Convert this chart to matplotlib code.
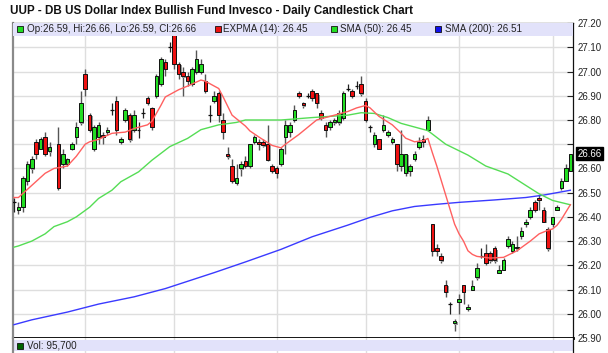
import matplotlib
matplotlib.use("Agg")
import matplotlib.pyplot as plt
from matplotlib.patches import Rectangle

plt.rcParams['font.family'] = ['Liberation Sans', 'DejaVu Sans']

title = "UUP - DB US Dollar Index Bullish Fund Invesco - Daily Candlestick Chart"

# daily candles, one slot per trading day (None = no bar drawn)
opens = [26.46, 26.43, 26.44, 26.55, 26.60, 26.71, 26.68, 26.73, 26.67, None,
         26.70, 26.62, 26.62, 26.68, 26.73, 26.79, 26.99, 26.82, 26.68, 26.73,
         26.74, 26.75, 26.84, 26.88, 26.71, 26.80, 26.82, 26.76, 26.76, 26.83,
         26.89, 26.85, 26.90, 26.95, 27.04, 27.10, 27.16, 27.03, 27.00, 26.98,
         26.95, 27.00, 27.00, 26.96, 26.82, 26.88, 26.91, 26.80, 26.66, 26.61,
         26.54, 26.60, 26.63, 26.61, 26.71, 26.71, 26.71, 26.70, 26.61, 26.60,
         26.62, 26.73, 26.75, 26.80, 26.91, 26.87, 26.90, 26.92, 26.91, 26.83,
         26.78, 26.77, 26.79, 26.79, 26.81, 26.93, 26.92, 26.94, 26.95, 26.88,
         26.77, 26.70, 26.72, 26.76, 26.74, 26.71, 26.70, 26.61, 26.58, 26.59,
         26.64, 26.69, 26.72, 26.76, 26.37, 26.27, 26.24, 26.12, 26.04, 25.96,
         26.05, 26.12, 26.02, 26.10, 26.15, 26.24, 26.25, 26.25, 26.27, 26.17,
         26.18, 26.28, 26.26, 26.27, 26.32, 26.37, 26.40, 26.46, 26.48, 26.43,
         26.35, 26.37, 26.43, 26.52, 26.55, 26.59]
highs = [26.48, 26.46, 26.57, 26.63, 26.65, 26.72, 26.73, 26.75, 26.71, None,
         26.77, 26.68, 26.645, 26.71, 26.79, 26.92, 27.01, 26.83, 26.78, 26.79,
         26.75, 26.77, 26.87, 26.90, 26.73, 26.85, 26.83, 26.84, 26.79, 26.85,
         26.90, 26.855, 26.99, 27.06, 27.05, 27.12, 27.17, 27.04, 27.02, 27.00,
         27.02, 27.09, 27.05, 26.99, 26.86, 26.92, 26.92, 26.83, 26.69, 26.64,
         26.62, 26.63, 26.65, 26.70, 26.74, 26.72, 26.72, 26.78, 26.62, 26.61,
         26.69, 26.80, 26.79, 26.86, 26.92, 26.875, 26.91, 26.93, 26.91, 26.84,
         26.79, 26.80, 26.81, 26.84, 26.92, 26.95, 26.93, 26.96, 26.98, 26.89,
         26.78, 26.75, 26.72, 26.82, 26.76, 26.73, 26.70, 26.76, 26.66, 26.62,
         26.67, 26.73, 26.74, 26.815, 26.37, 26.29, 26.25, 26.14, 26.05, 25.98,
         26.08, 26.12, 26.04, 26.14, 26.21, 26.27, 26.29, 26.26, 26.28, 26.20,
         26.23, 26.32, 26.30, 26.32, 26.36, 26.39, 26.44, 26.47, 26.49, 26.44,
         26.36, 26.40, 26.45, 26.56, 26.62, 26.66]
lows = [26.42, 26.41, 26.42, 26.53, 26.58, 26.64, 26.68, 26.65, 26.65, None,
        26.51, 26.60, 26.61, 26.675, 26.70, 26.78, 26.90, 26.75, 26.67, 26.70,
        26.70, 26.74, 26.82, 26.74, 26.70, 26.79, 26.71, 26.75, 26.725, 26.81,
        26.86, 26.76, 26.89, 26.94, 26.98, 27.08, 27.01, 26.97, 26.90, 26.94,
        26.94, 26.99, 26.99, 26.91, 26.79, 26.87, 26.79, 26.72, 26.64, 26.54,
        26.53, 26.57, 26.60, 26.60, 26.70, 26.675, 26.69, 26.63, 26.58, 26.56,
        26.61, 26.66, 26.73, 26.79, 26.89, 26.85, 26.89, 26.88, 26.85, 26.80,
        26.73, 26.76, 26.78, 26.78, 26.80, 26.92, 26.89, 26.93, 26.90, 26.79,
        26.75, 26.69, 26.68, 26.75, 26.73, 26.70, 26.59, 26.59, 26.57, 26.57,
        26.63, 26.68, 26.69, 26.755, 26.24, 26.24, 26.21, 26.07, 26.00, 25.93,
        26.00, 26.04, 26.01, 26.10, 26.14, 26.23, 26.20, 26.21, 26.21, 26.17,
        26.18, 26.27, 26.25, 26.26, 26.31, 26.36, 26.39, 26.42, 26.43, 26.38,
        26.26, 26.36, 26.43, 26.51, 26.55, 26.59]
closes = [26.46, 26.44, 26.56, 26.62, 26.64, 26.66, 26.72, 26.66, 26.69, None,
          26.52, 26.66, 26.64, 26.70, 26.77, 26.87, 26.93, 26.76, 26.77, 26.78,
          26.73, 26.76, 26.84, 26.76, 26.72, 26.84, 26.72, 26.82, 26.76, 26.83,
          26.87, 26.77, 26.98, 27.05, 27.01, 27.10, 27.03, 26.99, 26.98, 26.96,
          27.01, 27.05, 27.03, 26.92, 26.82, 26.90, 26.82, 26.75, 26.65, 26.55,
          26.56, 26.62, 26.61, 26.70, 26.73, 26.70, 26.695, 26.635, 26.59, 26.58,
          26.68, 26.78, 26.78, 26.84, 26.90, 26.86, 26.90, 26.89, 26.87, 26.81,
          26.76, 26.79, 26.80, 26.83, 26.91, 26.93, 26.90, 26.94, 26.91, 26.80,
          26.77, 26.74, 26.68, 26.78, 26.75, 26.72, 26.62, 26.66, 26.66, 26.61,
          26.66, 26.71, 26.71, 26.80, 26.26, 26.26, 26.22, 26.09, 26.04, 25.97,
          26.06, 26.09, 26.03, 26.115, 26.19, 26.24, 26.21, 26.22, 26.22, 26.18,
          26.22, 26.31, 26.29, 26.275, 26.34, 26.38, 26.43, 26.43, 26.47, 26.38,
          26.27, 26.40, 26.44, 26.55, 26.60, 26.66]

# indicator lines (day slot, value)
ema_days = [0, 1, 4, 7, 9, 12, 14, 16, 17, 19, 22, 25, 27, 30, 31, 33, 34, 37,
            39, 42, 43, 46, 47, 49, 50, 52, 53, 55, 58, 60, 61, 64, 66, 68, 70,
            73, 75, 77, 79, 80, 82, 85, 87, 88, 90, 92, 93, 94, 95, 96, 97, 98,
            99, 100, 101, 102, 103, 104, 107, 110, 113, 116, 118, 120, 121, 122,
            123, 124, 125]
ema_vals = [26.48, 26.48, 26.53, 26.58, 26.60, 26.61, 26.65, 26.70, 26.71, 26.72,
            26.745, 26.75, 26.765, 26.78, 26.795, 26.86, 26.895, 26.925, 26.94,
            26.965, 26.96, 26.93, 26.895, 26.82, 26.805, 26.775, 26.755, 26.73,
            26.695, 26.685, 26.70, 26.74, 26.77, 26.80, 26.81, 26.825, 26.835,
            26.85, 26.86, 26.85, 26.815, 26.78, 26.745, 26.725, 26.71, 26.715,
            26.724, 26.665, 26.61, 26.55, 26.49, 26.43, 26.37, 26.33, 26.30,
            26.26, 26.245, 26.237, 26.23, 26.233, 26.26, 26.30, 26.33, 26.345,
            26.35, 26.365, 26.39, 26.42, 26.45]
sma50_days = [0, 1, 4, 7, 9, 12, 14, 17, 19, 22, 24, 28, 31, 35, 39, 42, 46, 50,
              52, 60, 67, 75, 78, 81, 84, 87, 93, 97, 102, 106, 111, 115, 118,
              121, 125]
sma50_vals = [26.275, 26.28, 26.30, 26.33, 26.36, 26.38, 26.40, 26.44, 26.476,
              26.51, 26.545, 26.586, 26.634, 26.69, 26.724, 26.76, 26.78, 26.79,
              26.80, 26.80, 26.81, 26.82, 26.83, 26.827, 26.81, 26.786, 26.756,
              26.70, 26.655, 26.61, 26.577, 26.53, 26.495, 26.468, 26.45]
sma200_days = [0, 4, 12, 19, 27, 34, 42, 45, 52, 60, 67, 75, 80, 85, 90, 95,
               100, 108, 115, 119, 125]
sma200_vals = [25.955, 25.975, 26.007, 26.04, 26.07, 26.104, 26.152, 26.17,
               26.214, 26.266, 26.318, 26.366, 26.398, 26.425, 26.443, 26.452,
               26.46, 26.47, 26.48, 26.49, 26.51]

month_starts = [16, 36, 59, 79, 100, 121]
price_ticks = [25.90, 26.00, 26.10, 26.20, 26.30, 26.40, 26.50, 26.60, 26.70,
               26.80, 26.90, 27.00, 27.10, 27.20]
last_price = 26.66
legend_items = [("Op:26.59, Hi:26.66, Lo:26.59, Cl:26.66", "#22dd22"),
                ("EXPMA (14): 26.45", "#ee1111"),
                ("SMA (50): 26.45", "#22dd22"),
                ("SMA (200): 26.51", "#1111ee")]
volume_text = "Vol: 95,700"

W, H = 608, 353
fig = plt.figure(figsize=(W / 100, H / 100), dpi=100)
ax = fig.add_axes([13 / W, 15 / H, 560 / W, 315.5 / H])

grid_col = "#dedede"
for y in price_ticks:
    ax.axhline(y, color=grid_col, lw=1, zorder=0)
for d in month_starts:
    ax.axvline(d, color=grid_col, lw=1, zorder=0)

# candles
bw = 0.8
for i in range(len(opens)):
    o, h, l, c = opens[i], highs[i], lows[i], closes[i]
    if o is None:
        continue
    if abs(c - o) < 0.003:
        ax.vlines(i, l, h, color="#222222", lw=0.9, zorder=3)
        ax.hlines(o, i - bw / 2, i + bw / 2, color="#111111", lw=0.9, zorder=3)
        continue
    ax.vlines(i, l, h, color="#555555", lw=1.0, zorder=2)
    col = "#22dd22" if c > o else "#ee1111"
    lo_b = min(o, c)
    ax.add_patch(Rectangle((i - bw / 2 + 0.25, lo_b - 0.005), bw, abs(c - o),
                           facecolor="#9a9a9a", edgecolor="none", zorder=2.5))
    ax.add_patch(Rectangle((i - bw / 2, lo_b), bw, abs(c - o),
                           facecolor=col, edgecolor="#111111", lw=0.7, zorder=3))

ax.plot(sma200_days, sma200_vals, color="#3a3aff", lw=1.0, zorder=4)
ax.plot(sma50_days, sma50_vals, color="#55dd55", lw=1.0, zorder=4)
ax.plot(ema_days, ema_vals, color="#ff6060", lw=1.0, zorder=4)

ax.set_xlim(-0.22, 125.6)
ax.set_ylim(25.90, 27.2025)
ax.set_xticks([])
ax.yaxis.tick_right()
ax.set_yticks(price_ticks)
ax.set_yticklabels(["" if abs(t - 26.70) < 1e-6 else f"{t:.2f}" for t in price_ticks])
ax.tick_params(axis="y", direction="in", length=4, width=0.8, pad=3,
               labelsize=6.9, colors="#222222")
for s in ["top", "right"]:
    ax.spines[s].set_color("#111111")
    ax.spines[s].set_linewidth(0.9)
ax.spines["left"].set_color("#8a8a8a")
ax.spines["left"].set_linewidth(1.6)
ax.spines["bottom"].set_color("#000000")
ax.spines["bottom"].set_linewidth(2)

# last price flag
ax.annotate(f"{last_price:.2f}", xy=(1, last_price),
            xycoords=("axes fraction", "data"), xytext=(3.2, 0),
            textcoords="offset points", ha="left", va="center",
            fontsize=6.9, color="white", annotation_clip=False,
            bbox=dict(boxstyle="square,pad=0.15", fc="black", ec="black"))

# legend band
band_h = 13.5 / 315.5
ax.add_patch(Rectangle((0, 1 - band_h), 1, band_h, transform=ax.transAxes,
                       facecolor="#e2e2fa", edgecolor="none", zorder=6))
sq_x = [20, 218.5, 334, 438]
tx_x = [27, 223, 340, 445]
yb = 1 - band_h / 2
for (txt, col), sx, tx in zip(legend_items, sq_x, tx_x):
    ax.plot([(sx - 13) / 560], [yb], marker="s", ms=4.6, mfc=col, mec="#111111",
            mew=0.6, transform=ax.transAxes, zorder=7, clip_on=False)
    ax.text((tx - 13) / 560, yb, txt, transform=ax.transAxes, fontsize=7.1,
            va="center", ha="left", color="#222222", zorder=7)

fig.text(10 / W, 1 - 11 / H, title, fontsize=8.4, fontweight="bold",
         va="center", ha="left", color="#111111")

# volume strip
vax = fig.add_axes([13 / W, 0, 560 / W, 15 / H])
vax.set_xlim(-0.22, 125.6)
vax.set_ylim(0, 1)
for d in month_starts:
    vax.axvline(d, color=grid_col, lw=1, zorder=0)
vax.add_patch(Rectangle((0, 0.13), 1, 0.74, transform=vax.transAxes,
                        facecolor="#e2e2fa", edgecolor="none", zorder=1))
vax.plot([(20 - 13) / 560], [0.5], marker="s", ms=4.6, mfc="#006400",
         mec="#111111", mew=0.6, transform=vax.transAxes, zorder=3)
vax.text((27 - 13) / 560, 0.5, volume_text, transform=vax.transAxes,
         fontsize=7.1, va="center", ha="left", color="#222222", zorder=3)
vax.set_xticks([])
vax.set_yticks([])
vax.spines["top"].set_visible(False)
vax.spines["bottom"].set_visible(False)
vax.spines["left"].set_color("#8a8a8a")
vax.spines["left"].set_linewidth(1.6)
vax.spines["right"].set_color("#111111")
vax.spines["right"].set_linewidth(0.9)

fig.savefig("out.png", dpi=100)
